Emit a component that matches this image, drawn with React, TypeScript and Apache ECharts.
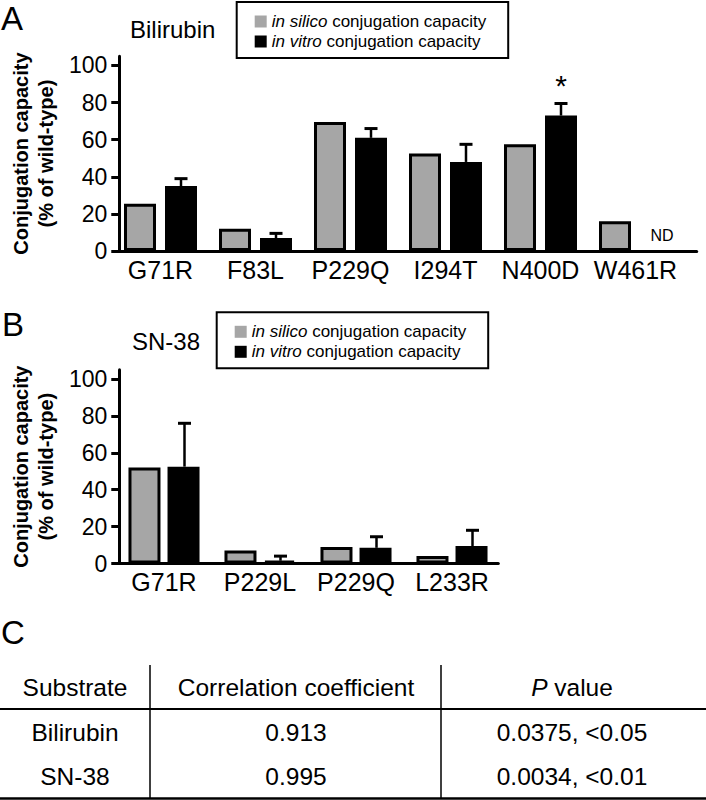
import React, { useEffect, useRef } from "react";
import * as echarts from "echarts";

// ---------- data ----------
const categoriesA = ["G71R", "F83L", "P229Q", "I294T", "N400D", "W461R"];
const inSilicoA = [25.5, 12, 69.5, 52.5, 57.5, 16];
const inVitroA: (number | null)[] = [35, 7, 61, 48, 73, null];
const inVitroSdA: (number | null)[] = [4, 2.5, 5, 9.5, 6.5, null];
const significantA = [false, false, false, false, true, false];

const categoriesB = ["G71R", "P229L", "P229Q", "L233R"];
const inSilicoB = [52, 7, 9, 4];
const inVitroB: (number | null)[] = [52.5, 1.5, 8.5, 9.5];
const inVitroSdB: (number | null)[] = [23.5, 2.5, 6, 8.5];
const significantB = [false, false, false, false];

const yTicks = [0, 20, 40, 60, 80, 100];

const seriesNames = ["in silico conjugation capacity", "in vitro conjugation capacity"];

const tableHeader = ["Substrate", "Correlation coefficient", "P value"];
const tableSubstrates = ["Bilirubin", "SN-38"];
const tableCorrelations = ["0.913", "0.995"];
const tablePValues = ["0.0375, <0.05", "0.0034, <0.01"];

// ---------- style ----------
const FONT = "'Liberation Sans', Arial, Helvetica, sans-serif";
const GRAY = "#a6a6a6";
const BAR_W = 32;
const BAR_GAP_PX = 9;
const HALF_STEP = (BAR_W + BAR_GAP_PX) / 2;

function errorData(vitro: (number | null)[], sd: (number | null)[], sig: boolean[]) {
  return vitro.map((v, i) => [i, v == null ? 0 : v, sd[i] == null ? 0 : (sd[i] as number), sig[i] ? 1 : 0, v == null ? 1 : 0]);
}

function renderError(params: any, api: any) {
  const i = api.value(0);
  const mean = api.value(1);
  const sd = api.value(2);
  const sig = api.value(3);
  const nd = api.value(4);
  const base = api.coord([i, 0]);
  const x = base[0] + HALF_STEP;
  if (nd) {
    return {
      type: "text",
      x: x + 6,
      y: base[1] - 16,
      style: {
        text: "ND", fontSize: 16, fontFamily: FONT, fill: "#000",
        align: "center", verticalAlign: "middle", textAlign: "center", textVerticalAlign: "middle",
      },
    };
  }
  const yMean = api.coord([i, mean])[1];
  const yTop = api.coord([i, mean + sd])[1];
  const children: any[] = [
    { type: "line", shape: { x1: x, y1: yMean, x2: x, y2: yTop }, style: { stroke: "#000", lineWidth: 2.5 } },
    { type: "line", shape: { x1: x - 6.5, y1: yTop, x2: x + 6.5, y2: yTop }, style: { stroke: "#000", lineWidth: 3 } },
  ];
  if (sig) {
    children.push({
      type: "text",
      x: x,
      y: yTop - 3,
      style: {
        text: "*", fontSize: 30, fontFamily: FONT, fill: "#000",
        align: "center", verticalAlign: "bottom", textAlign: "center", textVerticalAlign: "bottom",
      },
    });
  }
  return { type: "group", children };
}

function legendFor(left: number, top: number) {
  return {
    orient: "vertical",
    left, top,
    data: seriesNames,
    selectedMode: false,
    icon: "rect",
    itemWidth: 12,
    itemHeight: 12,
    itemGap: 1,
    padding: [10, 22, 7, 18],
    borderColor: "#000",
    borderWidth: 2,
    itemStyle: { borderWidth: 0 },
    formatter: (name: string) => {
      const m = name.match(/^(in \w+) (.*)$/);
      return m ? `{it|${m[1]}}{n| ${m[2]}}` : name;
    },
    textStyle: {
      fontSize: 17, fontFamily: FONT, color: "#000", lineHeight: 19,
      rich: {
        it: { fontStyle: "italic", fontSize: 17, fontFamily: FONT, color: "#000", lineHeight: 19 },
        n: { fontSize: 17, fontFamily: FONT, color: "#000", lineHeight: 19 },
      },
    },
  };
}

function frameYAxis(gridIndex: number) {
  return {
    gridIndex, type: "value", min: 0, max: 105,
    axisLine: { show: true, lineStyle: { color: "#000", width: 3 } },
    axisTick: { show: true, length: 8, lineStyle: { color: "#000", width: 3 }, customValues: yTicks },
    axisLabel: { customValues: yTicks, fontSize: 23, fontFamily: FONT, color: "#000", margin: 12 },
    splitLine: { show: false },
    name: "Conjugation capacity\n(% of wild-type)",
    nameLocation: "middle",
    nameGap: 50,
    nameTextStyle: { fontSize: 20, fontWeight: "bold", fontFamily: FONT, color: "#000", lineHeight: 25 },
  };
}

function frameXAxis(gridIndex: number) {
  return {
    gridIndex, type: "value", min: 0, max: 1,
    axisLine: { show: true, onZero: false, lineStyle: { color: "#000", width: 3 } },
    axisTick: { show: false }, axisLabel: { show: false }, splitLine: { show: false },
  };
}

function catXAxis(gridIndex: number, data: string[]) {
  return {
    gridIndex, type: "category", data,
    axisLine: { show: false }, axisTick: { show: false }, splitLine: { show: false },
    axisLabel: { interval: 0, fontSize: 25, fontFamily: FONT, color: "#000", margin: 6 },
  };
}

function hiddenYAxis(gridIndex: number) {
  return { gridIndex, type: "value", min: 0, max: 105, show: false, splitLine: { show: false } };
}

function barSeries(name: string, data: (number | null)[], xi: number, yi: number, color: string, gap: string) {
  return {
    type: "bar", name, data, xAxisIndex: xi, yAxisIndex: yi,
    barWidth: BAR_W, barGap: gap,
    itemStyle: { color, borderColor: "#000", borderWidth: 3 },
    emphasis: { disabled: true },
  };
}

function txt(text: string, x: number, y: number, fontSize: number, align = "left", extra: any = {}) {
  return {
    type: "text", x, y,
    style: {
      text, fontSize, fontFamily: FONT, fill: "#000",
      align, verticalAlign: "middle", textAlign: align, textVerticalAlign: "middle",
      ...extra,
    },
  };
}

function hline(x1: number, y1: number, x2: number, y2: number, w: number) {
  return { type: "line", shape: { x1, y1, x2, y2 }, style: { stroke: "#000", lineWidth: w } };
}

export default function App() {
  const ref = useRef<HTMLDivElement>(null);
  useEffect(() => {
    if (!ref.current) return;
    const chart = echarts.init(ref.current, undefined, { renderer: "svg" });
    const gapPct = (BAR_GAP_PX / BAR_W) * 100 + "%";

    const colX = [75, 296, 572];
    const headerY = 687;
    const rowY = [732, 776];
    const tableGraphics: any[] = [
      hline(150, 665, 150, 799, 1.5),
      hline(441, 665, 441, 799, 1.5),
      hline(0, 709, 706, 709, 2),
      hline(0, 798.5, 706, 798.5, 2.5),
      txt(tableHeader[0], colX[0], headerY, 24.5, "center"),
      txt(tableHeader[1], colX[1], headerY, 24.5, "center"),
      txt("{i|P}{n| value}", colX[2], headerY, 24.5, "center", {
        rich: {
          i: { fontStyle: "italic", fontSize: 24.5, fontFamily: FONT, fill: "#000" },
          n: { fontSize: 24.5, fontFamily: FONT, fill: "#000" },
        },
      }),
    ];
    tableSubstrates.forEach((s, r) => {
      tableGraphics.push(txt(s, colX[0], rowY[r], 24.5, "center"));
      tableGraphics.push(txt(tableCorrelations[r], colX[1], rowY[r], 24.5, "center"));
      tableGraphics.push(txt(tablePValues[r], colX[2], rowY[r], 24.5, "center"));
    });

    chart.setOption({
      animation: false,
      backgroundColor: "#fff",
      textStyle: { fontFamily: FONT },
      grid: [
        { left: 110, top: 56.2, width: 586.7, height: 194.8 },
        { left: 113, top: 56.2, width: 570, height: 194.8 },
        { left: 110, top: 369.8, width: 388.3, height: 193.7 },
        { left: 116, top: 369.8, width: 384, height: 193.7 },
      ],
      xAxis: [frameXAxis(0), catXAxis(1, categoriesA), frameXAxis(2), catXAxis(3, categoriesB)],
      yAxis: [frameYAxis(0), hiddenYAxis(1), frameYAxis(2), hiddenYAxis(3)],
      legend: [legendFor(236.7, 2), legendFor(216.7, 312.3)],
      series: [
        barSeries(seriesNames[0], inSilicoA, 1, 1, GRAY, gapPct),
        barSeries(seriesNames[1], inVitroA, 1, 1, "#000", gapPct),
        {
          type: "custom", xAxisIndex: 1, yAxisIndex: 1, z: 5,
          data: errorData(inVitroA, inVitroSdA, significantA),
          renderItem: renderError, silent: true,
        },
        barSeries(seriesNames[0], inSilicoB, 3, 3, GRAY, "22%"),
        barSeries(seriesNames[1], inVitroB, 3, 3, "#000", "22%"),
        {
          type: "custom", xAxisIndex: 3, yAxisIndex: 3, z: 5,
          data: errorData(inVitroB, inVitroSdB, significantB),
          renderItem: renderError, silent: true,
        },
      ],
      graphic: [
        txt("A", 1, 18, 33),
        txt("Bilirubin", 130, 29, 24),
        txt("B", 2, 324, 33),
        txt("SN-38", 132, 341, 24),
        txt("C", 1, 632, 33),
        ...tableGraphics,
      ],
    });
    return () => chart.dispose();
  }, []);
  return (
    <div
      ref={ref}
      style={{ position: "fixed", left: 0, top: 0, width: 706, height: 800, background: "#fff" }}
    />
  );
}
